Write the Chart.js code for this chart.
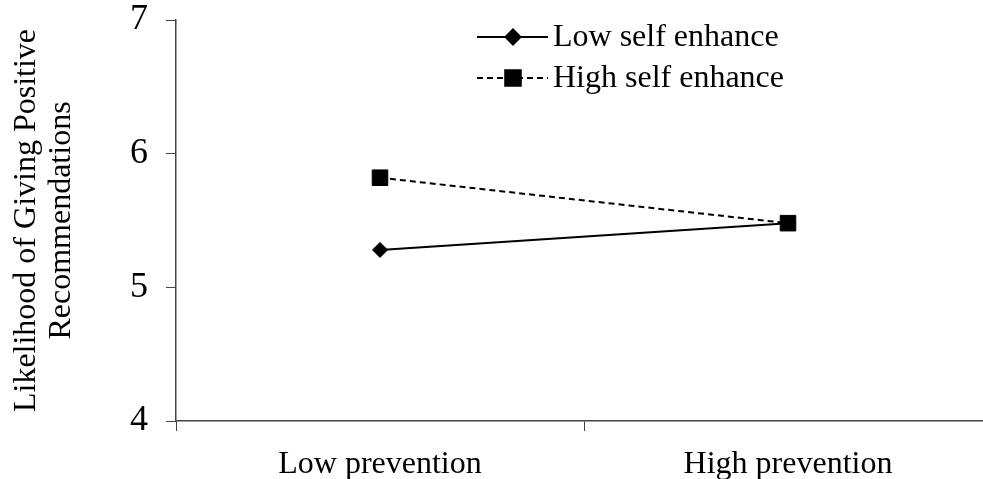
<!DOCTYPE html>
<html>
<head>
<meta charset="UTF-8">
<script src="https://cdn.jsdelivr.net/npm/chart.js@4.4.7/dist/chart.umd.min.js"></script>
<style>
*{margin:0;padding:0;box-sizing:border-box}
html,body{width:983px;height:479px;background:#fff;overflow:hidden}
#wrap{width:992px;height:479px;position:relative}
</style>
</head>
<body>
<div id="wrap"><canvas id="ch"></canvas></div>
<script>
// data
const categories = ['Low prevention', 'High prevention'];
const lowSelfEnhance = [5.28, 5.48];
const highSelfEnhance = [5.82, 5.48];
const yTicks = [4, 5, 6, 7];
const seriesNames = ['Low self enhance', 'High self enhance'];
const yTitle = ['Likelihood of Giving Positive', 'Recommendations'];

const SERIF = '"Liberation Serif", "Times New Roman", serif';
const AXIS = '#444';

// legend: line sample with marker in the middle, then label
const legendPlugin = {
  id: 'lineLegend',
  afterDraw(chart) {
    const ctx = chart.ctx;
    const rows = [
      { y: 37, dash: [], style: 'rectRot', r: 7.5, text: seriesNames[0] },
      { y: 78, dash: [6, 4], style: 'rect', r: 11, text: seriesNames[1] }
    ];
    ctx.save();
    rows.forEach(function(row) {
      ctx.strokeStyle = '#000';
      ctx.lineWidth = 2;
      ctx.setLineDash(row.dash);
      ctx.beginPath();
      ctx.moveTo(477, row.y);
      ctx.lineTo(548, row.y);
      ctx.stroke();
      ctx.setLineDash([]);
      Chart.helpers.drawPoint(ctx, { pointStyle: row.style, radius: row.r, borderWidth: 1, rotation: 0 }, 513, row.y);
      ctx.fillStyle = '#000';
      ctx.font = '32px ' + SERIF;
      ctx.textBaseline = 'middle';
      ctx.textAlign = 'left';
      ctx.fillText(row.text, 553, row.y + 1);
    });
    ctx.restore();
  }
};

new Chart(document.getElementById('ch'), {
  type: 'line',
  data: {
    labels: categories,
    datasets: [
      {
        label: seriesNames[0],
        data: lowSelfEnhance,
        borderColor: '#000',
        backgroundColor: '#000',
        borderWidth: 2,
        pointStyle: 'rectRot',
        pointRadius: 7.5,
        pointBorderWidth: 1,
        order: 1
      },
      {
        label: seriesNames[1],
        data: highSelfEnhance,
        borderColor: '#000',
        backgroundColor: '#000',
        borderWidth: 2,
        borderDash: [6, 4],
        pointStyle: 'rect',
        pointRadius: 11,
        pointBorderWidth: 1,
        order: 0
      }
    ]
  },
  options: {
    responsive: true,
    maintainAspectRatio: false,
    animation: false,
    layout: { autoPadding: false, padding: { top: 20, left: 0, right: 0, bottom: 0 } },
    plugins: {
      legend: { display: false },
      tooltip: { enabled: false }
    },
    scales: {
      x: {
        offset: true,
        grid: { offset: true, drawOnChartArea: false, drawTicks: true, tickLength: 10, color: AXIS, lineWidth: 1 },
        border: { color: AXIS, width: 1.5 },
        ticks: { color: '#000', font: { family: SERIF, size: 32 }, padding: 14 },
        afterFit(scale) {
          scale.height = 58;
          scale.paddingLeft = 0;
          scale.paddingRight = 0;
        }
      },
      y: {
        min: 4,
        max: 7,
        afterBuildTicks(scale) { scale.ticks = yTicks.map(function(v) { return { value: v }; }); },
        grid: { drawOnChartArea: false, drawTicks: true, tickLength: 10, color: AXIS, lineWidth: 1 },
        border: { color: AXIS, width: 1.5 },
        ticks: { color: '#000', font: { family: SERIF, size: 36 }, padding: 18 },
        title: {
          display: true,
          text: yTitle,
          color: '#000',
          font: { family: SERIF, size: 32, lineHeight: 1.1 },
          padding: { top: 9, bottom: 0 }
        },
        afterFit(scale) {
          scale.width = 176;
          scale.paddingTop = 0;
          scale.paddingBottom = 0;
        }
      }
    }
  },
  plugins: [legendPlugin]
});
</script>
</body>
</html>
